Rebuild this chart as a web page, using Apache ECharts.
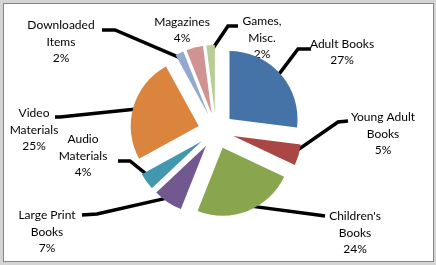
<!DOCTYPE html>
<html>
<head>
<meta charset="utf-8">
<script src="https://cdn.jsdelivr.net/npm/echarts@6/dist/echarts.min.js"></script>
<style>
  html, body { margin: 0; padding: 0; background: #d4d4d4; }
  #chart { position: absolute; left: 3px; top: 3px; width: 429px; height: 257px; background: #fff; border: 1px solid #868686; }
</style>
</head>
<body>
<div id="chart"></div>
<script>
// data, clockwise from 12 o'clock
var categories = ['Adult Books', 'Young Adult\nBooks', "Children's\nBooks", 'Large Print\nBooks',
    'Audio\nMaterials', 'Video\nMaterials', 'Downloaded\nItems', 'Magazines', 'Games,\nMisc.'];
var percents = [27, 5, 24, 7, 4, 25, 2, 4, 2];
var colors = ['#4572A7', '#AA4643', '#89A54E', '#71588F', '#4198AF', '#DB843D', '#93A9CF', '#D19392', '#B9CD96'];

// label placement (chart div coords)
var labelPos = [[338, 48], [379, 130], [351, 229], [43, 228], [79, 152], [30, 126], [57, 38], [178, 26], [258, 34]];
var labelElbow = [[294, 45], [334, 118], [314, 211], [93, 210], [126, 157], [56, 113], [111, 26], null, [224, 22]];
var labelEnd = [[307, 45], [344, 117], [321, 212], [78, 211], [114, 157], [51, 113], [98, 26], null, [234, 22]];

var myChart = echarts.init(document.getElementById('chart'));

var sliceData = [];
var labelData = [];
for (var i = 0; i < categories.length; i++) {
    sliceData.push({
        name: categories[i],
        value: percents[i],
        selected: true,
        itemStyle: { color: colors[i] }
    });
    labelData.push({
        name: categories[i],
        value: percents[i],
        labelLine: { show: labelElbow[i] !== null }
    });
}

var option = {
    animation: false,
    series: [
        {
            // exploded slices
            type: 'pie',
            center: [212, 127],
            radius: 68,
            startAngle: 90,
            clockwise: true,
            selectedMode: 'multiple',
            selectedOffset: 18,
            silent: true,
            itemStyle: { borderWidth: 0 },
            label: { show: false },
            labelLine: { show: false },
            data: sliceData
        },
        {
            // labels + leader lines (transparent sectors)
            type: 'pie',
            center: [212, 127],
            radius: 80,
            startAngle: 90,
            clockwise: true,
            silent: true,
            avoidLabelOverlap: false,
            itemStyle: { color: 'rgba(0,0,0,0)', borderWidth: 0 },
            label: {
                show: true,
                position: 'outside',
                formatter: function(p) { return p.name + '\n' + p.value + '%'; },
                fontFamily: 'Lato',
                fontSize: 12,
                lineHeight: 16.5,
                color: '#000',
                align: 'center'
            },
            labelLine: {
                show: true,
                length: 10,
                length2: 10,
                lineStyle: { color: '#000', width: 3.5 }
            },
            labelLayout: function(params) {
                var i = params.dataIndex;
                var res = {
                    x: labelPos[i][0],
                    y: labelPos[i][1],
                    align: 'center',
                    verticalAlign: 'middle'
                };
                if (labelElbow[i] && params.labelLinePoints) {
                    res.labelLinePoints = [params.labelLinePoints[0], labelElbow[i], labelEnd[i]];
                }
                return res;
            },
            data: labelData
        }
    ]
};
myChart.setOption(option);
</script>
</body>
</html>
